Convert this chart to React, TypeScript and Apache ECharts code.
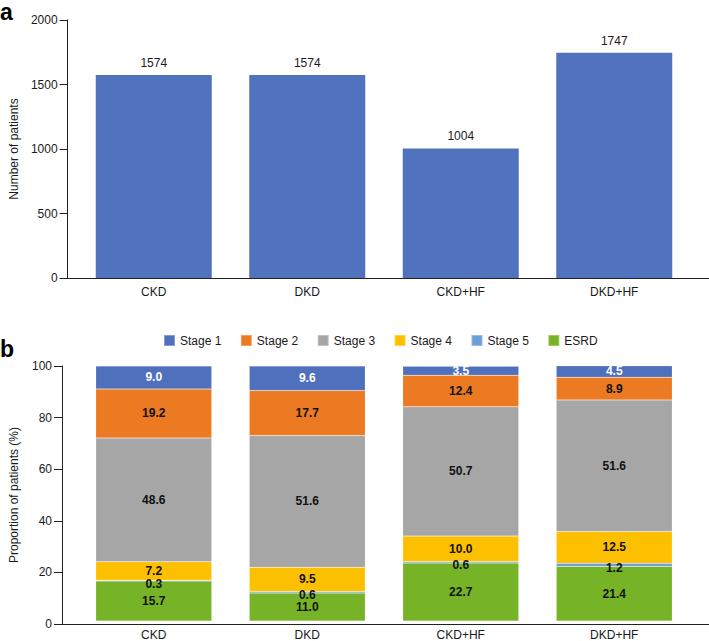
import React, { useEffect, useRef } from "react";
import * as echarts from "echarts";

const categories = ["CKD", "DKD", "CKD+HF", "DKD+HF"];
const patientCounts = [1574, 1574, 1004, 1747];
const countTicks = { min: 0, max: 2000, interval: 500 };
const pctTicks = { min: 0, max: 100, interval: 20 };

const stageNames = ["Stage 1", "Stage 2", "Stage 3", "Stage 4", "Stage 5", "ESRD"];
const stage1 = [9.0, 9.6, 3.5, 4.5];
const stage2 = [19.2, 17.7, 12.4, 8.9];
const stage3 = [48.6, 51.6, 50.7, 51.6];
const stage4 = [7.2, 9.5, 10.0, 12.5];
const stage5 = [0.3, 0.6, 0.6, 1.2];
const esrd = [15.7, 11.0, 22.7, 21.4];

const stageColors: Record<string, string> = {
  "Stage 1": "#4f71bd",
  "Stage 2": "#ec7a22",
  "Stage 3": "#a6a6a6",
  "Stage 4": "#fdc000",
  "Stage 5": "#6b9fd7",
  ESRD: "#77b327",
};

const FONT = "Liberation Sans, Arial, sans-serif";
const TXT = "#1a1a1a";

export default function App() {
  const ref = useRef<HTMLDivElement>(null);
  useEffect(() => {
    if (!ref.current) return;
    const chart = echarts.init(ref.current, undefined, { renderer: "svg" });

    const stageData: [string, number[]][] = [
      ["ESRD", esrd],
      ["Stage 5", stage5],
      ["Stage 4", stage4],
      ["Stage 3", stage3],
      ["Stage 2", stage2],
      ["Stage 1", stage1],
    ];

    const yAxisCommon = (gi: number, show: boolean, ticks: any, name: string) => ({
      type: "value",
      gridIndex: gi,
      min: ticks.min,
      max: ticks.max,
      interval: ticks.interval,
      show,
      name,
      nameLocation: "middle",
      nameGap: 42,
      nameTextStyle: { fontSize: 12, color: TXT, fontFamily: FONT },
      axisLine: { show: true, lineStyle: { color: "#222", width: 1 } },
      axisTick: { show: true, length: 8, lineStyle: { color: "#222" } },
      axisLabel: {
        fontSize: 12,
        color: TXT,
        fontFamily: FONT,
        margin: 10,
        formatter: (v: number) => String(v),
      },
      splitLine: { show: false },
    });

    const option: any = {
      animation: false,
      textStyle: { fontFamily: FONT },
      grid: [
        { left: 77, right: 18, top: 20, height: 258 },
        { left: 59, right: 0, top: 20, height: 258 },
        { left: 77, right: 18, top: 366, height: 258 },
        { left: 59, right: 0, top: 366, height: 258 },
      ],
      legend: {
        data: stageNames,
        left: 158,
        top: 329,
        itemWidth: 11,
        itemHeight: 11,
        itemGap: 18.5,
        icon: "rect",
        textStyle: { fontSize: 12, color: TXT, fontFamily: FONT },
      },
      xAxis: [
        {
          type: "category",
          gridIndex: 0,
          data: categories,
          axisLine: { show: false },
          axisTick: { show: false },
          axisLabel: { fontSize: 12, color: TXT, fontFamily: FONT, margin: 8 },
        },
        {
          type: "value",
          gridIndex: 1,
          min: 0,
          max: 1,
          axisLine: { show: true, onZero: false, lineStyle: { color: "#222" } },
          axisTick: { show: false },
          axisLabel: { show: false },
          splitLine: { show: false },
        },
        {
          type: "category",
          gridIndex: 2,
          data: categories,
          axisLine: { show: false },
          axisTick: { show: false },
          axisLabel: { fontSize: 12, color: TXT, fontFamily: FONT, margin: 8 },
        },
        {
          type: "value",
          gridIndex: 3,
          min: 0,
          max: 1,
          axisLine: { show: true, onZero: false, lineStyle: { color: "#222" } },
          axisTick: { show: false },
          axisLabel: { show: false },
          splitLine: { show: false },
        },
      ],
      yAxis: [
        yAxisCommon(0, false, countTicks, ""),
        yAxisCommon(1, true, countTicks, "Number of patients"),
        yAxisCommon(2, false, pctTicks, ""),
        yAxisCommon(3, true, pctTicks, "Proportion of patients (%)"),
      ],
      series: [
        {
          type: "bar",
          xAxisIndex: 0,
          yAxisIndex: 0,
          data: patientCounts,
          barWidth: 116,
          itemStyle: { color: "#5173bd" },
          label: {
            show: true,
            position: "top",
            distance: 6,
            fontSize: 12,
            color: TXT,
            fontFamily: FONT,
          },
        },
        ...stageData.map(([name, vals]) => ({
          type: "bar",
          name,
          stack: "stage",
          xAxisIndex: 2,
          yAxisIndex: 2,
          data: vals,
          barWidth: 116,
          itemStyle: {
            color: stageColors[name],
            borderColor: "rgba(255,255,255,0.3)",
            borderWidth: 0.5,
          },
          label: {
            show: true,
            position: "inside",
            offset: name === "Stage 5" ? [0, 3] : [0, 0],
            fontSize: 12,
            fontWeight: "bold",
            fontFamily: FONT,
            color: name === "Stage 1" ? "#ffffff" : "#111111",
            formatter: (p: any) => Number(p.value).toFixed(1),
          },
        })),
      ],
      graphic: [
        {
          type: "text",
          left: 0,
          top: 0,
          style: { text: "a", font: `bold 23px ${FONT}`, fill: "#000" },
        },
        {
          type: "text",
          left: 0,
          top: 337,
          style: { text: "b", font: `bold 23px ${FONT}`, fill: "#000" },
        },
      ],
    };

    chart.setOption(option);
    return () => chart.dispose();
  }, []);

  return (
    <div
      ref={ref}
      style={{ position: "fixed", left: 0, top: 0, width: 709, height: 641, background: "#fff" }}
    />
  );
}
